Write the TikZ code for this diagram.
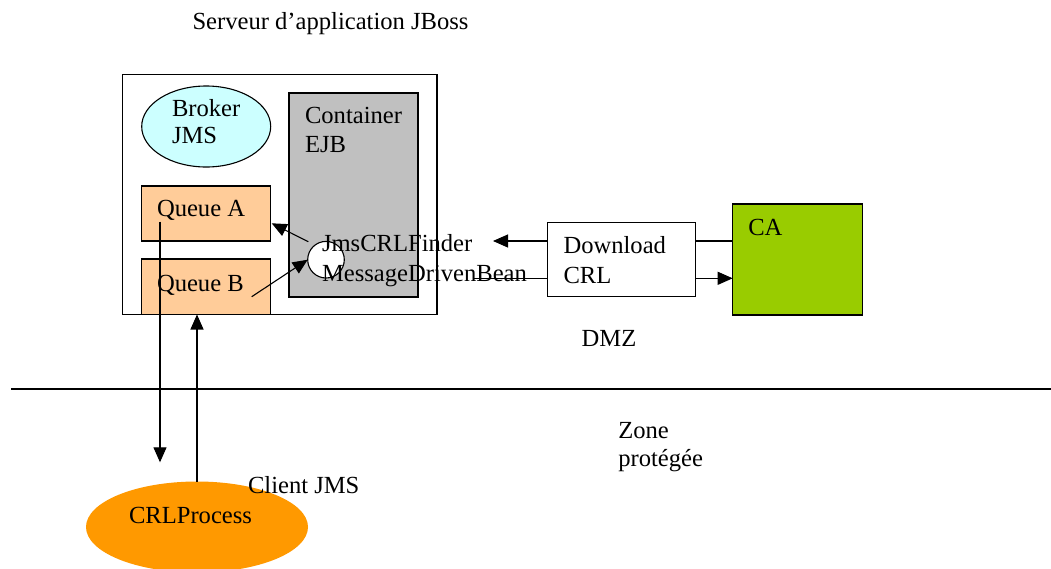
\documentclass[tikz,border=0pt]{standalone}
\usepackage{fontspec}
\setmainfont{Liberation Serif}
\usetikzlibrary{arrows.meta,shapes.geometric}
\definecolor{brokerfill}{HTML}{CCFFFF}
\definecolor{queuefill}{HTML}{FFCC99}
\definecolor{contfill}{HTML}{C0C0C0}
\definecolor{cafill}{HTML}{99CC00}
\definecolor{procfill}{HTML}{FF9900}
\begin{document}
\begin{tikzpicture}[x=1pt,y=-1pt,
  every node/.style={font=\fontsize{24.6}{28.5}\selectfont},
  txt/.style={anchor=base west, inner sep=0pt, outer sep=0pt},
  box/.style={draw=black, line width=1.1pt, inner sep=0pt, outer sep=0pt, anchor=north west},
  oval/.style={ellipse, line width=1.1pt, inner sep=0pt, outer sep=0pt},
  conn/.style={line width=1.1pt},
  arr/.style={conn, -{Triangle[length=15pt,width=13pt]}}
]
\useasboundingbox (0,0) rectangle (1051,568);
\fill[white] (0,0) rectangle (1051,568);

% title
\node[txt] (title) at (192.5,29.3) {Serveur d’application JBoss};

% server box and contents
\node[box, minimum width=314.5pt, minimum height=240pt] (server) at (122.5,74.5) {};
\node[oval, draw=black, fill=brokerfill, minimum width=129pt, minimum height=81pt] (broker) at (206.2,126.5) {};
\node[box, fill=contfill, minimum width=129pt, minimum height=204pt] (container) at (289,93) {};
\node[box, fill=queuefill, minimum width=129pt, minimum height=55pt] (queueA) at (141.7,186) {};
\node[box, fill=queuefill, minimum width=129pt, minimum height=55.5pt] (queueB) at (141.7,259) {};
\node[circle, draw=black, fill=white, line width=1.1pt, inner sep=0pt, outer sep=0pt, minimum size=36.6pt] (circ) at (326,259.7) {};

% right boxes
\node[box, fill=white, minimum width=148.4pt, minimum height=74.4pt] (download) at (547.3,222.3) {};
\node[box, fill=cafill, minimum width=129.6pt, minimum height=111pt] (ca) at (732.7,204) {};

% client process
\node[oval, fill=procfill, minimum width=222pt, minimum height=91pt] (crlp) at (197,527) {};

% texts
\node[txt] (brokerT1) at (172,116) {Broker};
\node[txt] (brokerT2) at (172,143.5) {JMS};
\node[txt] (contT1) at (305,123) {Container};
\node[txt] (contT2) at (305,152) {EJB};
\node[txt] (queueAT) at (157,216.5) {Queue A};
\node[txt] (queueBT) at (157,291.5) {Queue B};
\node[txt] (mdbT1) at (322,251.5) {JmsCRLFinder};
\node[txt] (mdbT2) at (322,281.5) {MessageDrivenBean};
\node[txt] (downT1) at (563.5,253) {Download};
\node[txt] (downT2) at (563.5,283) {CRL};
\node[txt] (caT) at (748.3,235) {CA};
\node[txt] (dmz) at (581.7,346) {DMZ};
\node[txt] (zoneT1) at (618.3,438.3) {Zone};
\node[txt] (zoneT2) at (618.3,466.7) {protégée};
\node[txt] (crlpT) at (129,523) {CRLProcess};
\node[txt] (client) at (248,493) {Client JMS};

% connector end points
\coordinate (c1) at (308.3,241.7);
\coordinate (c2) at (271.7,223.3);
\coordinate (qb1) at (251.7,296.7);
\coordinate (dl1) at (493,241);
\coordinate (dl2) at (473,278.3);
\coordinate (qa1) at (160,221.7);
\coordinate (qa2) at (160,462.3);
\coordinate (hl1) at (11,389);
\coordinate (hl2) at (1051,389);

% connectors
\draw[arr] (c1) -- (c2);
\draw[arr] (qb1) -- (circ.west);
\draw[arr] (download.west |- dl1) -- (dl1);
\draw[conn] (download.west |- dl2) -- (dl2);
\draw[conn] (download.east |- dl1) -- (ca.west |- dl1);
\draw[arr] (download.east |- dl2) -- (ca.west |- dl2);
\draw[arr] (qa1) -- (qa2);
\draw[arr] (crlp.north) -- (crlp.north |- queueB.south);
\draw[conn] (hl1) -- (hl2);
\end{tikzpicture}
\end{document}
